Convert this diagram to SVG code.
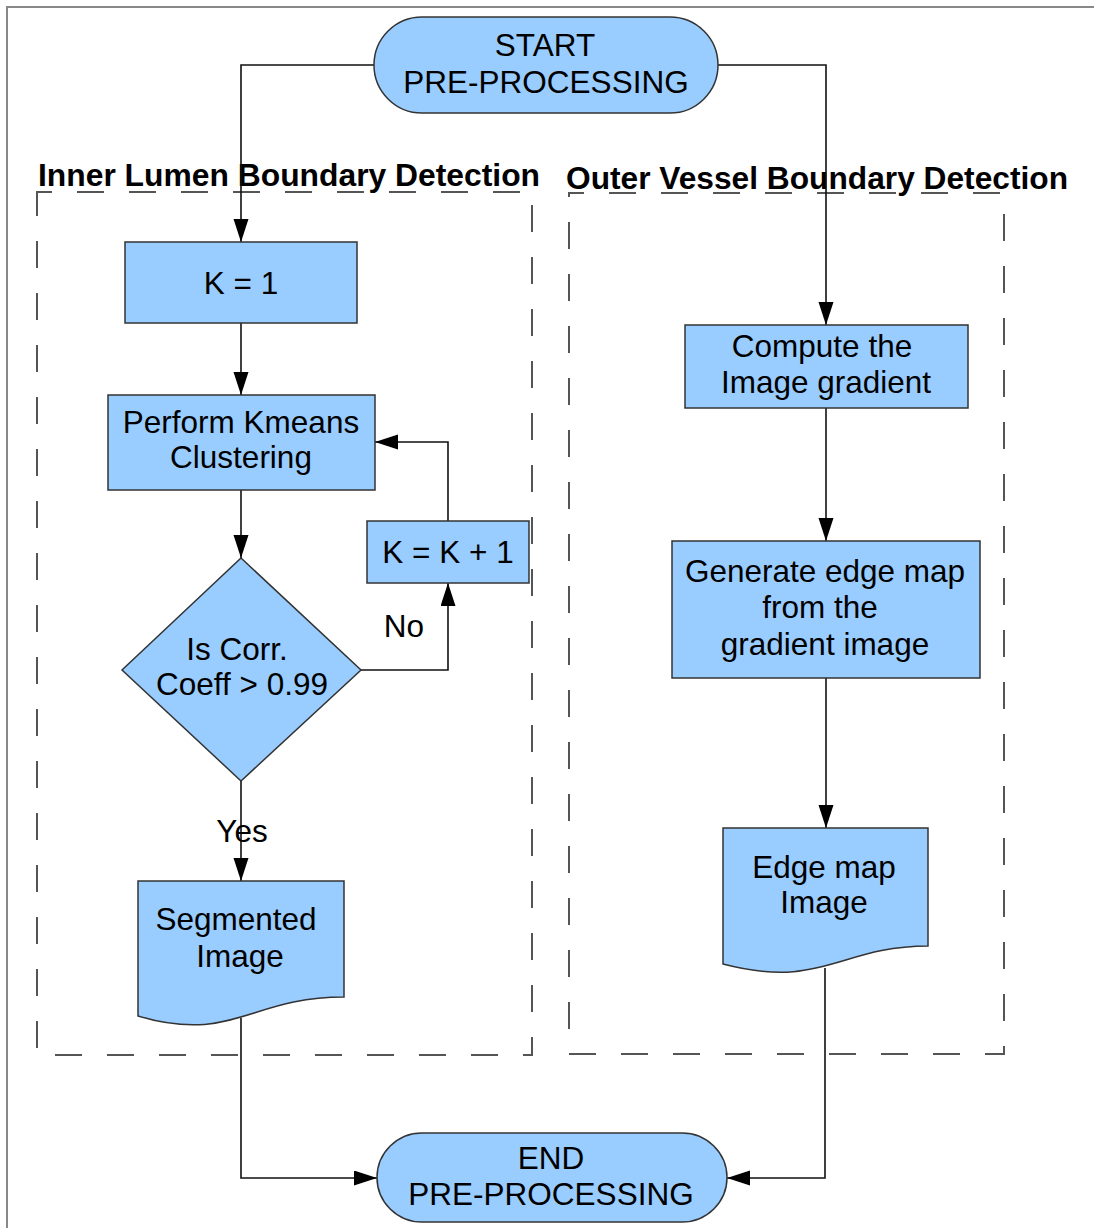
<svg xmlns="http://www.w3.org/2000/svg" width="1094" height="1228" viewBox="0 0 1094 1228">
<style>
.node{fill:#99ccff;stroke:#333;stroke-width:1.5}
.t{font-family:"Liberation Sans",Arial,sans-serif;font-size:31.5px;fill:#000;text-anchor:middle}
.h{font-family:"Liberation Sans",Arial,sans-serif;font-size:32px;font-weight:bold;fill:#000}
.lane{fill:none;stroke:#555;stroke-width:2;stroke-dasharray:27 25}
.c{fill:none;stroke:#111;stroke-width:1.6}
</style>
<defs>
<marker id="arr" markerUnits="userSpaceOnUse" markerWidth="26" markerHeight="16" refX="23" refY="7.5" orient="auto">
<path d="M0,0 L23,7.5 L0,15 z" fill="#000"/>
</marker>
</defs>
<rect width="1094" height="1228" fill="#fff"/>
<path d="M7,1228 V7 H1094" fill="none" stroke="#888" stroke-width="2"/>
<g id="lanes">
<path class="lane" d="M37,192 H532 V1055 H37 Z" stroke-dashoffset="12"/>
<path class="lane" d="M569,193 H1004 V1054 H569 Z" stroke-dashoffset="12"/>
<text class="h" x="38" y="186" textLength="502" lengthAdjust="spacingAndGlyphs">Inner Lumen Boundary Detection</text>
<text class="h" x="566" y="189" textLength="502" lengthAdjust="spacingAndGlyphs">Outer Vessel Boundary Detection</text>
</g>
<g id="connectors">
<path class="c" d="M374,65 H241 V242" marker-end="url(#arr)"/>
<path class="c" d="M718,65 H826 V325" marker-end="url(#arr)"/>
<path class="c" d="M241,323 V395" marker-end="url(#arr)"/>
<path class="c" d="M241,490 V558" marker-end="url(#arr)"/>
<path class="c" d="M361,670 H448 V583" marker-end="url(#arr)"/>
<path class="c" d="M448,521 V442 H375" marker-end="url(#arr)"/>
<path class="c" d="M241,781 V881" marker-end="url(#arr)"/>
<path class="c" d="M826,408 V541" marker-end="url(#arr)"/>
<path class="c" d="M826,678 V828" marker-end="url(#arr)"/>
<path class="c" d="M241,1018 V1178 H377" marker-end="url(#arr)"/>
<path class="c" d="M825,968 V1178 H727" marker-end="url(#arr)"/>
<text class="t" x="404" y="637">No</text>
<text class="t" x="242" y="842">Yes</text>
</g>
<g id="start">
<rect class="node" x="374" y="17" width="344" height="96" rx="48" ry="48"/>
<text class="t" x="545" y="56">START</text>
<text class="t" x="546" y="93">PRE-PROCESSING</text>
</g>
<g id="k1">
<rect class="node" x="125" y="242" width="232" height="81"/>
<text class="t" x="241" y="294">K = 1</text>
</g>
<g id="kmeans">
<rect class="node" x="108" y="395" width="267" height="95"/>
<text class="t" x="241" y="433">Perform Kmeans</text>
<text class="t" x="241" y="468">Clustering</text>
</g>
<g id="decision">
<path class="node" d="M241,558 L361,670 L241,781 L122,670 Z"/>
<text class="t" x="237" y="660">Is Corr.</text>
<text class="t" x="242" y="695">Coeff &gt; 0.99</text>
</g>
<g id="kinc">
<rect class="node" x="367" y="521" width="162" height="62"/>
<text class="t" x="448" y="563">K = K + 1</text>
</g>
<g id="segmented">
<path class="node" d="M138,881 H344 V997 C250,997 232,1044 138,1016 Z"/>
<text class="t" x="236" y="930">Segmented</text>
<text class="t" x="240" y="967">Image</text>
</g>
<g id="compute">
<rect class="node" x="685" y="325" width="283" height="83"/>
<text class="t" x="822" y="357">Compute the</text>
<text class="t" x="826" y="393">Image gradient</text>
</g>
<g id="generate">
<rect class="node" x="672" y="541" width="308" height="137"/>
<text class="t" x="825" y="582">Generate edge map</text>
<text class="t" x="820" y="618">from the</text>
<text class="t" x="825" y="655">gradient image</text>
</g>
<g id="edgemap">
<path class="node" d="M723,828 H928 V946 C840,946 822,990 723,964 Z"/>
<text class="t" x="824" y="878">Edge map</text>
<text class="t" x="824" y="913">Image</text>
</g>
<g id="end">
<rect class="node" x="377" y="1133" width="350" height="89" rx="45" ry="44.5"/>
<text class="t" x="551" y="1169">END</text>
<text class="t" x="551" y="1205">PRE-PROCESSING</text>
</g>
</svg>
